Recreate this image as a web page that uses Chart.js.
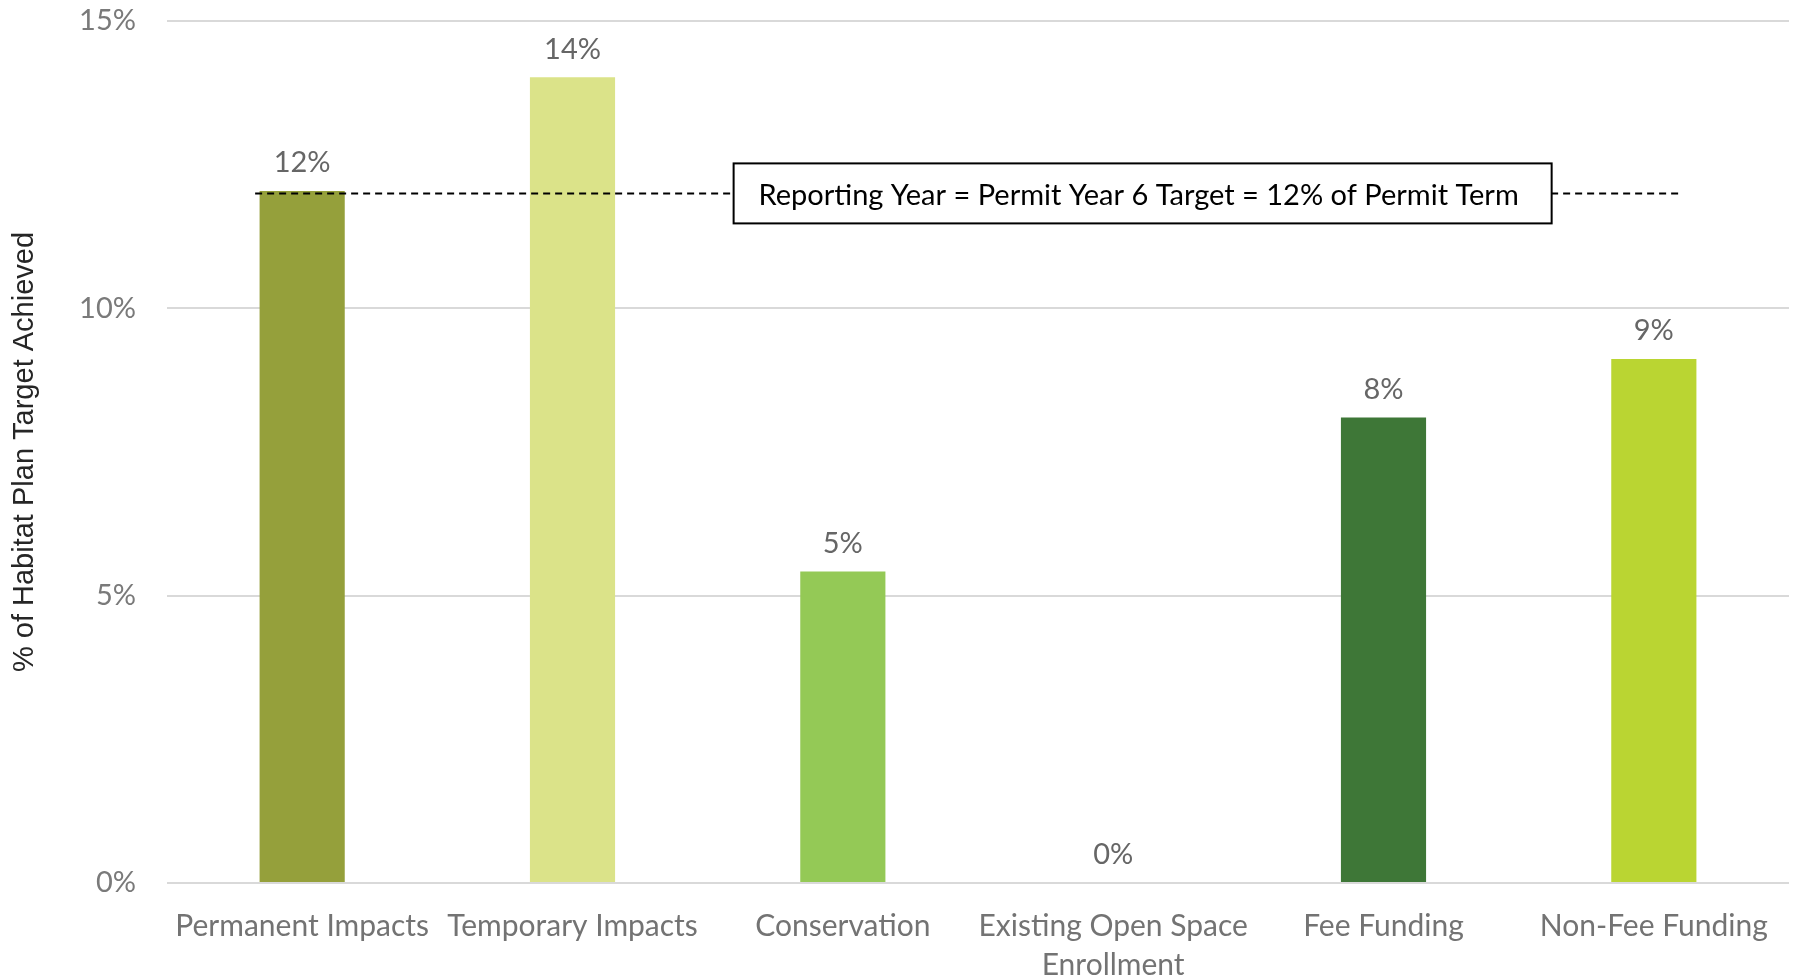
<!DOCTYPE html>
<html>
<head>
<meta charset="utf-8">
<script src="https://cdn.jsdelivr.net/npm/chart.js@4.4.1/dist/chart.umd.min.js"></script>
<style>
  html, body { margin: 0; padding: 0; background: #fff; }
</style>
</head>
<body>
<canvas id="habitatChart" width="1802" height="980"></canvas>
<script>
// values
const categories = [
  'Permanent Impacts',
  'Temporary Impacts',
  'Conservation',
  ['Existing Open Space', 'Enrollment'],
  'Fee Funding',
  'Non-Fee Funding'
];
const achieved = [12.04, 14.02, 5.42, 0, 8.1, 9.12];
const barColors = ['#95a03b', '#dbe389', '#94c956', '#94c956', '#3e7737', '#bad532'];
const yTicks = [0, 5, 10, 15];
const targetValue = 12;
const targetText = 'Reporting Year = Permit Year 6 Target = 12% of Permit Term';

const labelFont = 'Lato';

// dashed target line + text box, drawn on top of the bars
const targetLine = {
  id: 'targetLine',
  afterDatasetsDraw(chart, args, opts) {
    const { ctx, scales: { x, y } } = chart;
    const yPx = y.getPixelForValue(targetValue);
    ctx.save();
    ctx.strokeStyle = '#000';
    ctx.lineWidth = 2;
    ctx.setLineDash([7, 5]);
    ctx.beginPath();
    ctx.moveTo(x.getPixelForValue(opts.lineFrom), yPx);
    ctx.lineTo(x.getPixelForValue(opts.lineTo), yPx);
    ctx.stroke();

    const bx1 = x.getPixelForValue(opts.boxFrom);
    const bx2 = x.getPixelForValue(opts.boxTo);
    const bh = 60;
    ctx.setLineDash([]);
    ctx.fillStyle = '#fff';
    ctx.fillRect(bx1, yPx - bh / 2, bx2 - bx1, bh);
    ctx.strokeRect(bx1, yPx - bh / 2, bx2 - bx1, bh);
    ctx.fillStyle = '#000';
    ctx.font = '29px ' + labelFont;
    ctx.textAlign = 'center';
    ctx.textBaseline = 'middle';
    ctx.fillText(targetText, (bx1 + bx2) / 2 - 4, yPx + 2);
    ctx.restore();
  }
};

// percentage labels above each bar
const barValueLabels = {
  id: 'barValueLabels',
  afterDatasetsDraw(chart) {
    const { ctx } = chart;
    const meta = chart.getDatasetMeta(0);
    ctx.save();
    ctx.fillStyle = '#666';
    ctx.font = '29px ' + labelFont;
    ctx.textAlign = 'center';
    ctx.textBaseline = 'middle';
    meta.data.forEach((bar, i) => {
      ctx.fillText(Math.round(achieved[i]) + '%', bar.x, bar.y - 28);
    });
    ctx.restore();
  }
};

const ctx = document.getElementById('habitatChart').getContext('2d');

const habitatChart = new Chart(ctx, {
  type: 'bar',
  data: {
    labels: categories,
    datasets: [{
      data: achieved,
      backgroundColor: barColors,
      borderWidth: 0,
      categoryPercentage: 1,
      barPercentage: 0.315
    }]
  },
  options: {
    responsive: false,
    animation: false,
    layout: { padding: { top: 21, right: 13, left: 0, bottom: 0 } },
    plugins: {
      legend: { display: false },
      tooltip: { enabled: false },
      targetLine: { lineFrom: -0.174, lineTo: 5.096, boxFrom: 1.596, boxTo: 4.622 }
    },
    scales: {
      x: {
        grid: { display: false },
        border: { display: false },
        ticks: {
          color: '#737373',
          font: { family: labelFont, size: 30, lineHeight: 1.3 },
          padding: 16,
          maxRotation: 0,
          autoSkip: false
        },
        afterFit(scale) { scale.height = 97; }
      },
      y: {
        min: 0,
        max: 15,
        afterBuildTicks(scale) { scale.ticks = yTicks.map(v => ({ value: v })); },
        // invisible tick marks give the label gap without padding the top
        grid: { color: '#d9d9d9', lineWidth: 2, drawTicks: true, tickLength: 31, tickColor: 'rgba(0,0,0,0)' },
        border: { display: false },
        ticks: {
          color: '#7a7a7a',
          font: { family: labelFont, size: 29 },
          padding: 0,
          callback: v => v + '%'
        },
        title: {
          display: true,
          text: '% of Habitat Plan Target Achieved',
          color: '#262626',
          font: { family: 'Liberation Sans', size: 29 },
          padding: { top: 8, bottom: 0 }
        },
        afterFit(scale) { scale.width = 167; }
      }
    }
  },
  plugins: [targetLine, barValueLabels]
});
</script>
</body>
</html>
